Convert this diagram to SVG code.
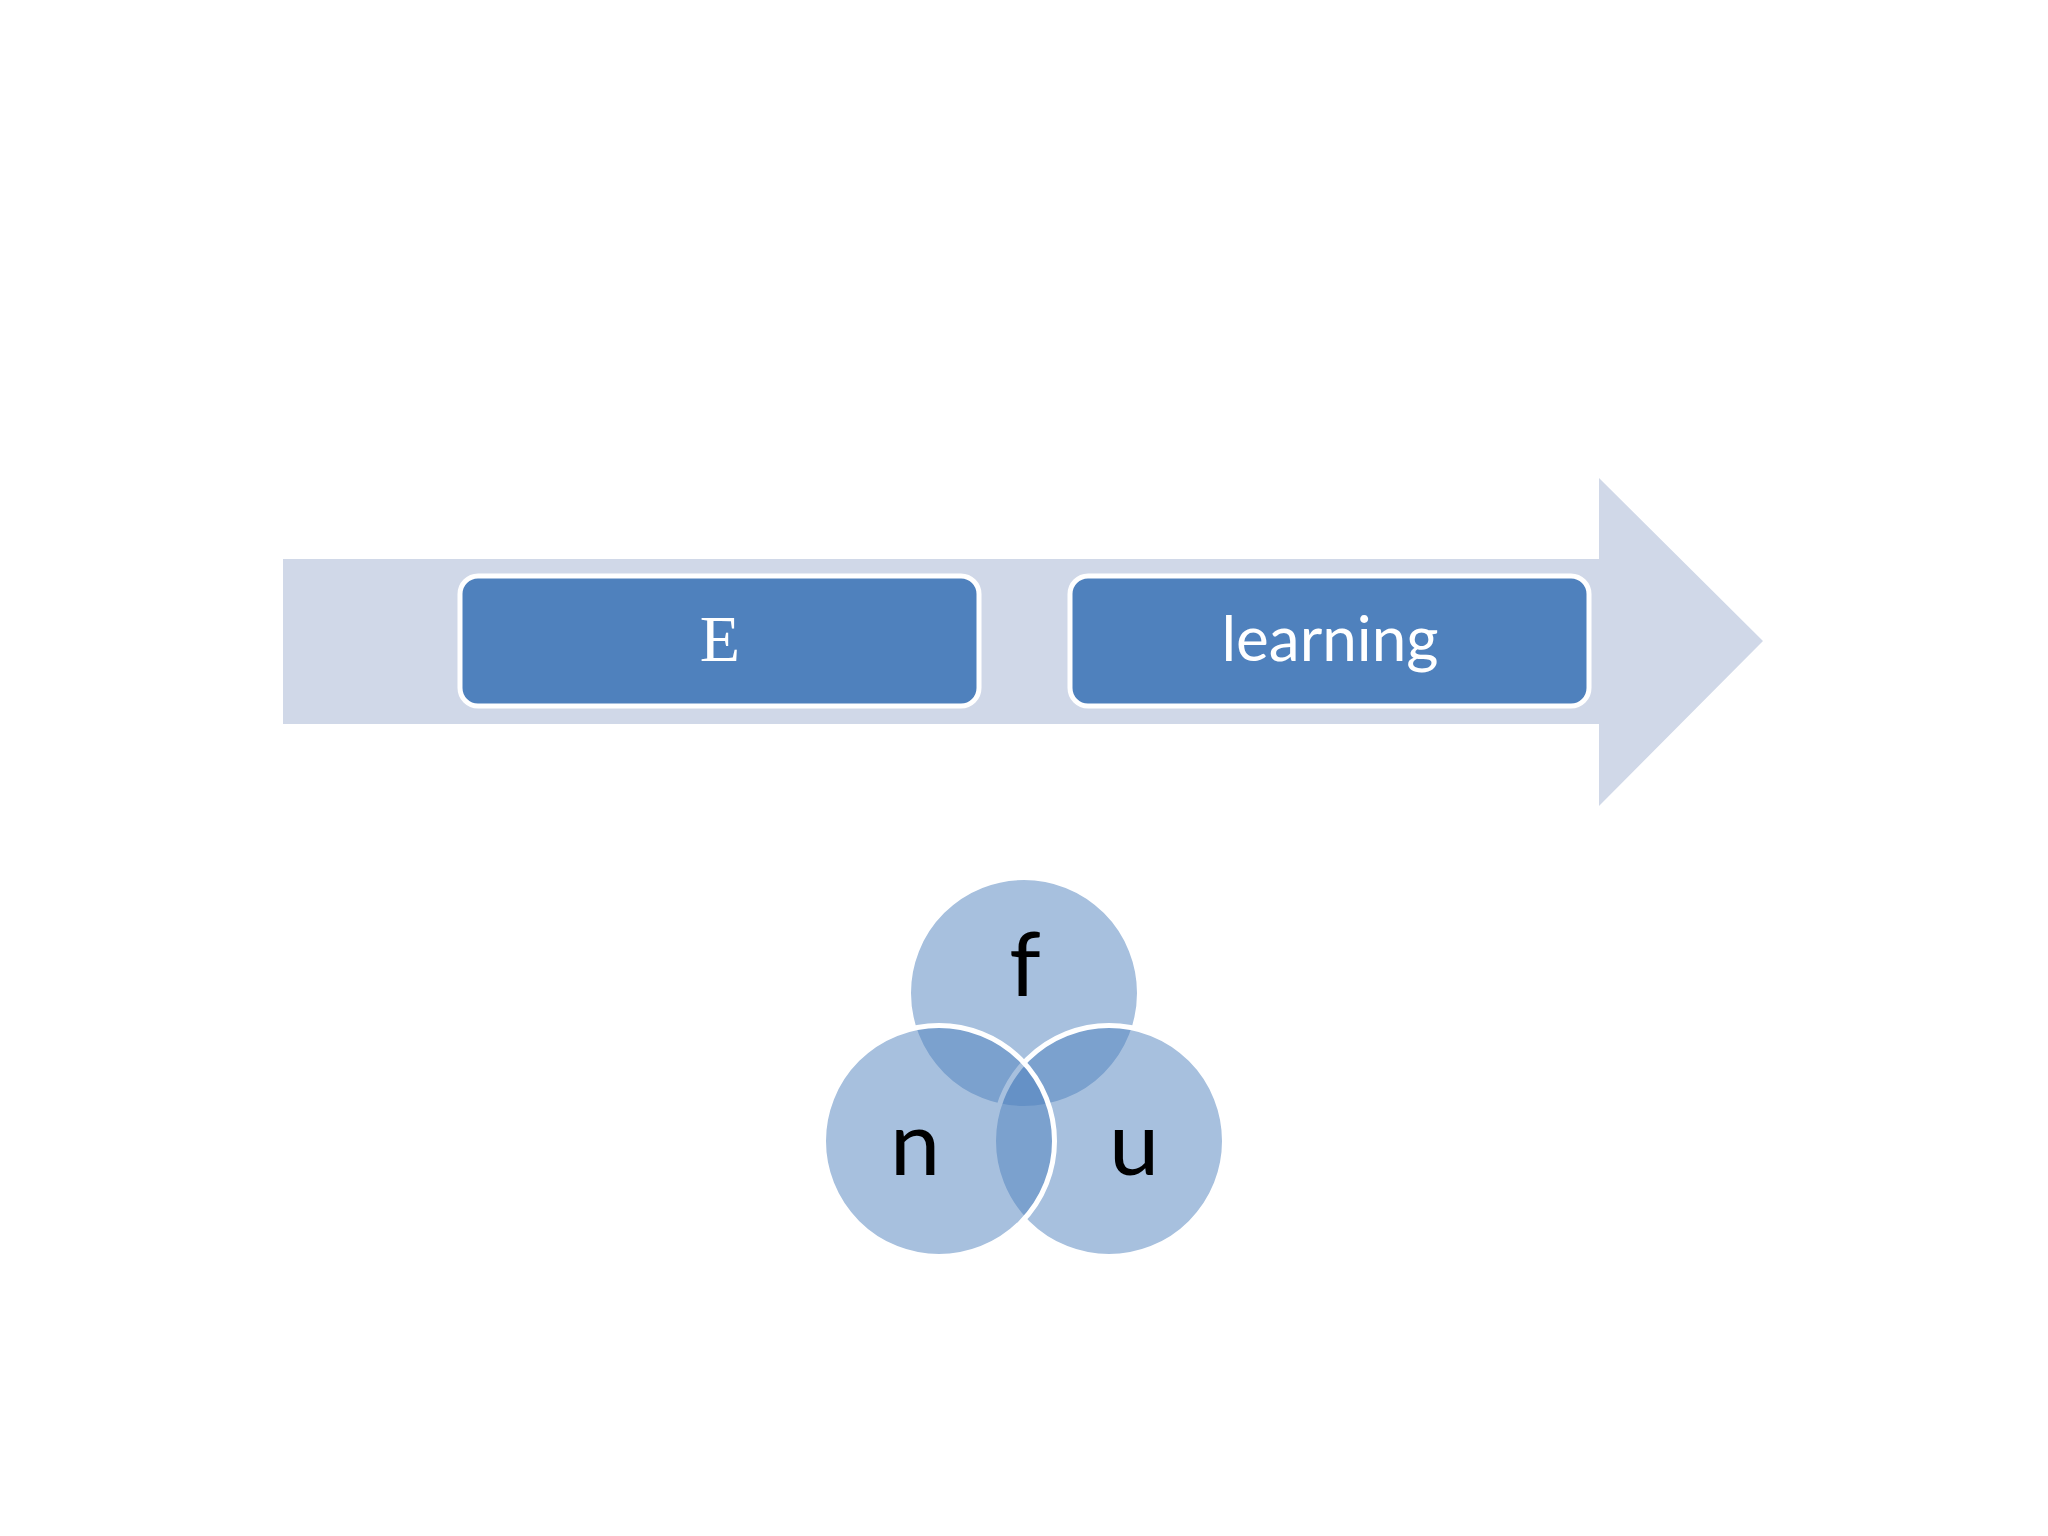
<svg xmlns="http://www.w3.org/2000/svg" width="2048" height="1536" viewBox="0 0 2048 1536">
<style>
.box{fill:#4f81bd;stroke:#ffffff;stroke-width:5}
.lbl{fill:#ffffff;text-anchor:middle}
.circ{fill:#4f81bd;fill-opacity:0.5;stroke:#ffffff;stroke-width:5}
.ctxt{fill:#000000;font-family:Lato,"Open Sans",sans-serif;font-size:90px;text-anchor:middle}
</style>
<rect width="2048" height="1536" fill="#ffffff"/>
<g id="arrow">
<polygon points="283,559 1599,559 1599,478 1763,641 1599,806 1599,724 283,724" fill="#d0d8e8"/>
</g>
<g id="node-E">
<rect class="box" x="460" y="576" width="519" height="130" rx="18"/>
<text class="lbl" x="720" y="661" font-family="Liberation Serif,serif" font-size="66">E</text>
</g>
<g id="node-learning">
<rect class="box" x="1070" y="576" width="519" height="130" rx="18"/>
<text class="lbl" x="1330" y="661" font-family="Lato,sans-serif" font-size="62">learning</text>
</g>
<g id="node-f">
<circle class="circ" cx="1024" cy="993" r="115.5"/>
<text class="ctxt" x="1025" y="996">f</text>
</g>
<g id="node-u">
<circle class="circ" cx="1109" cy="1141" r="115.5"/>
<text class="ctxt" x="1134" y="1175">u</text>
</g>
<g id="node-n">
<circle class="circ" cx="939" cy="1141" r="115.5"/>
<text class="ctxt" x="915" y="1175">n</text>
</g>
<g id="connectors"></g>
</svg>
